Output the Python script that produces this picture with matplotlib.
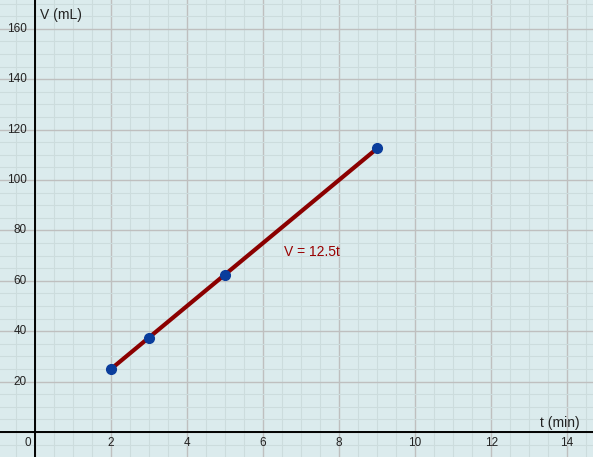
import matplotlib.pyplot as plt
import numpy as np
from matplotlib.ticker import MultipleLocator

# data
t = [2, 3, 5, 9]
V = [25, 37.5, 62.5, 112.5]
xticks = [2, 4, 6, 8, 10, 12, 14]
yticks = [20, 40, 60, 80, 100, 120, 140, 160]

plt.rcParams['font.family'] = ['Liberation Sans', 'DejaVu Sans']

fig = plt.figure(figsize=(5.93, 4.57), dpi=100)
ax = fig.add_axes([0, 0, 1, 1])
ax.set_facecolor('#dbebed')
ax.set_xlim(-0.92, 14.68)
ax.set_ylim(-9.9, 171.4)

# grid
ax.xaxis.set_major_locator(MultipleLocator(2))
ax.xaxis.set_minor_locator(MultipleLocator(0.5))
ax.yaxis.set_major_locator(MultipleLocator(20))
ax.yaxis.set_minor_locator(MultipleLocator(5))
ax.grid(which='minor', color='#ccdcdd', lw=0.8)
ax.grid(which='major', color='#bfbfbf', lw=1.0)
ax.set_axisbelow(True)
ax.tick_params(which='both', length=0, labelbottom=False, labelleft=False)
for s in ax.spines.values():
    s.set_visible(False)

# axes
ax.axhline(0, color='black', lw=1.4, zorder=2)
ax.axvline(0, color='black', lw=1.4, zorder=2)

for x in xticks:
    ax.text(x, -4.2, str(x), ha='center', va='center', fontsize=8.5, color='#222222')
ax.text(-0.1, -4.2, '0', ha='right', va='center', fontsize=8.5, color='#222222')
for y in yticks:
    ax.text(-0.22, y, str(y), ha='right', va='center', fontsize=8.5, color='#222222')

ax.text(0.13, 165.5, 'V (mL)', ha='left', va='center', fontsize=10, color='#222222')
ax.text(14.34, 3.6, 't (min)', ha='right', va='center', fontsize=10, color='#222222')

# line and points
ax.plot([t[0], t[-1]], [V[0], V[-1]], color='#8b0000', lw=3, solid_capstyle='butt', zorder=3)
ax.plot(t, V, 'o', color='#0a3d9c', ms=7, zorder=4)
ax.text(6.55, 71.4, 'V = 12.5t', ha='left', va='center', fontsize=10, color='#990000')

fig.savefig('out.png', dpi=100)
